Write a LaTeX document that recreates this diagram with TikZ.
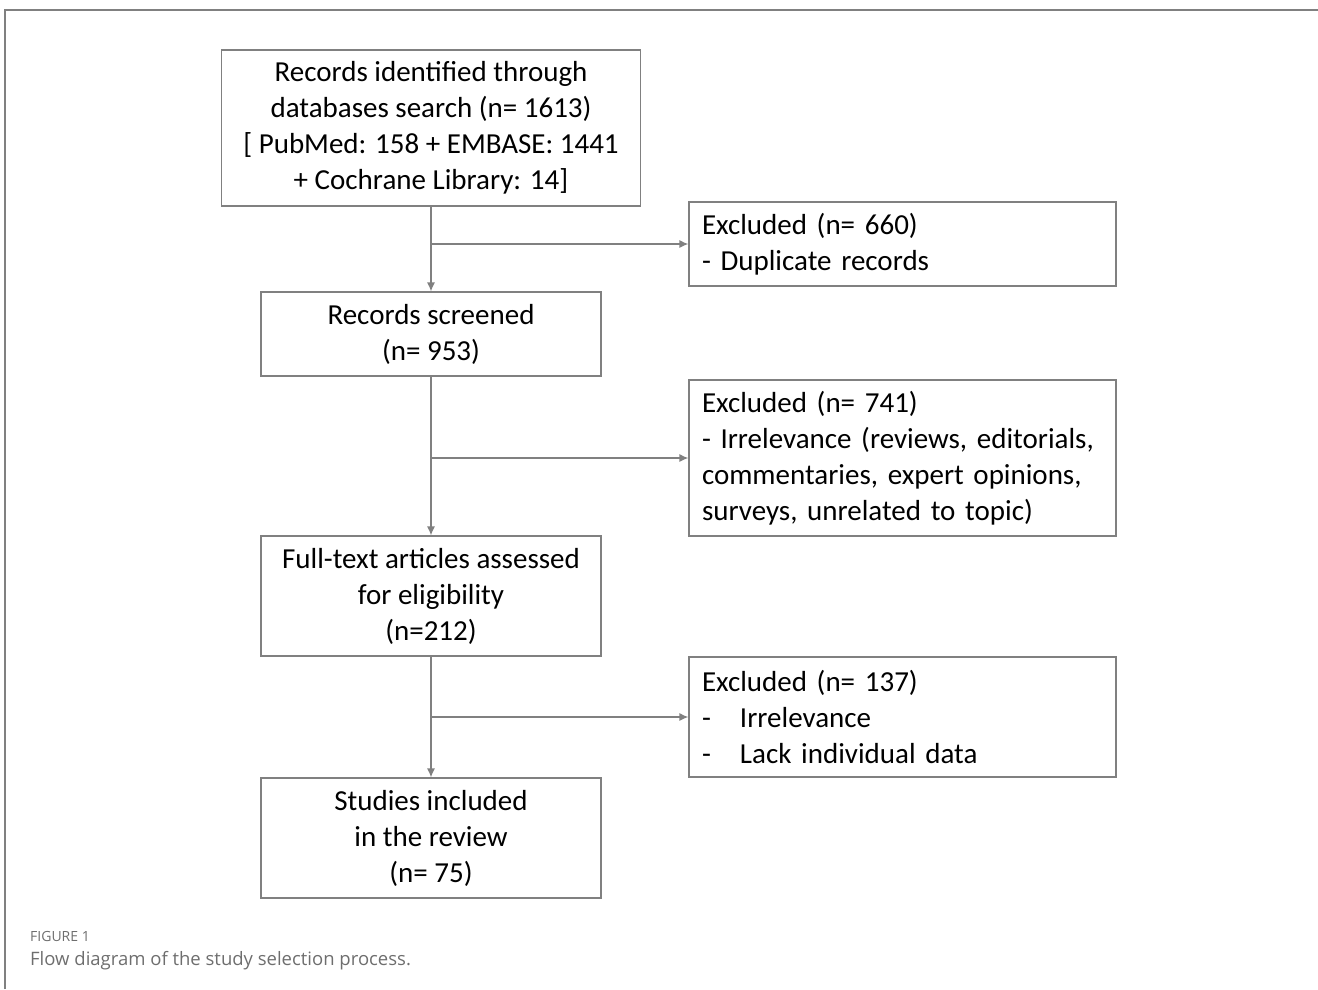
\documentclass[tikz,border=0pt]{standalone}
\usepackage{fontspec}
\setmainfont{Carlito}
\newfontfamily\capfont{Open Sans}
\usetikzlibrary{arrows.meta}
\definecolor{linegray}{HTML}{808080}
\definecolor{capgray}{HTML}{6E6E6E}

\begin{document}
\begin{tikzpicture}[x=1pt,y=-1pt]
    \tikzstyle{every node}=[font=\fontsize{29}{36}\selectfont]
    \tikzstyle{stage}=[draw=linegray,line width=1.2pt,align=center,minimum width=340pt,inner sep=0pt]
    \tikzstyle{excl}=[draw=linegray,line width=1.2pt,text width=401pt,inner xsep=13pt,inner ysep=0pt,align=left,minimum height=84pt]
    \tikzstyle{arr}=[draw=linegray,line width=1.2pt,-{Latex[length=9pt,width=8pt]}]
    \useasboundingbox (0,0) rectangle (1318,989);
    \draw[linegray,line width=1.5pt] (5,989) -- (5,10) -- (1318,10);
    \node[stage,minimum width=419pt,minimum height=156pt] (ident) at (431,128)
      {Records identified through\\databases search (n= 1613)\\{[} PubMed: 158 + EMBASE: 1441\\+ Cochrane Library: 14]};
    \node[stage,minimum height=84pt] (screen) at (431,334) {Records screened\\(n= 953)};
    \node[stage,minimum height=120pt] (full) at (431,596) {Full-text articles assessed\\for eligibility\\(n=212)};
    \node[stage,minimum height=120pt] (incl) at (431,838) {Studies included\\in the review\\(n= 75)};
    \node[excl] (exA) at (902.5,244) {Excluded (n= 660)\\- Duplicate records};
    \node[excl,minimum height=156pt] (exB) at (902.5,458)
      {Excluded (n= 741)\\- Irrelevance (reviews, editorials,\\commentaries, expert opinions,\\surveys, unrelated to topic)};
    \node[excl,minimum height=120pt] (exC) at (902.5,717)
      {Excluded (n= 137)\\\makebox[38pt][l]{-}Irrelevance\\\makebox[38pt][l]{-}Lack individual data};
    \draw[arr] (ident) -- (screen);
    \draw[arr] (screen) -- (full);
    \draw[arr] (full) -- (incl);
    \draw[arr] (ident.south |- exA.west) -- (exA);
    \draw[arr] (screen.south |- exB.west) -- (exB);
    \draw[arr] (full.south |- exC.west) -- (exC);
    \node[anchor=base west,inner sep=0pt,font=\capfont\fontsize{14}{16}\selectfont,text=capgray] (fig) at (30,941) {FIGURE 1};
    \node[anchor=base west,inner sep=0pt,font=\capfont\fontsize{18.5}{22}\selectfont,text=capgray] (cap) at (30,965) {Flow diagram of the study selection process.};
\end{tikzpicture}
\end{document}
